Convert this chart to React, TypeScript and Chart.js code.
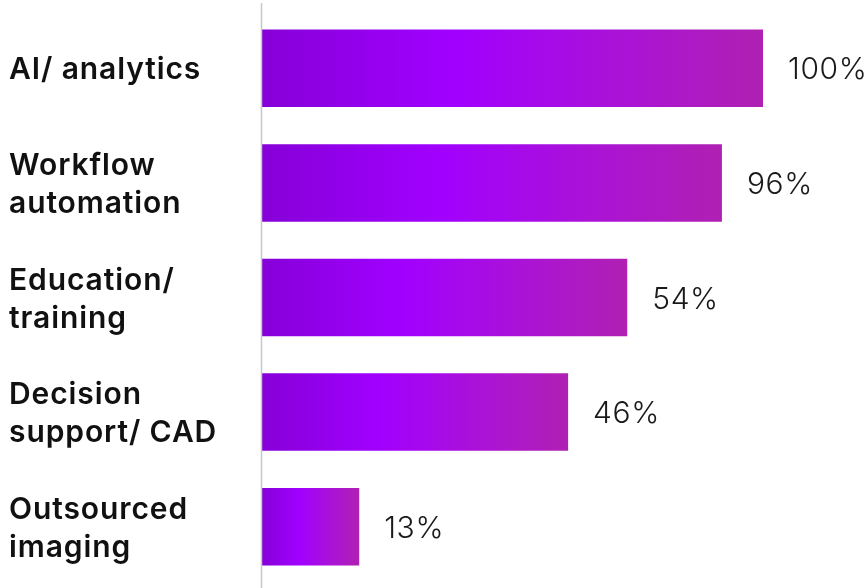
import React, { useEffect, useRef } from "react";
import { Chart, registerables } from "chart.js";

Chart.register(...registerables);

const categories: string[][] = [
  ["AI/ analytics"],
  ["Workflow", "automation"],
  ["Education/", "training"],
  ["Decision", "support/ CAD"],
  ["Outsourced", "imaging"],
];
const barValues: number[] = [100, 91.8, 72.9, 61.1, 19.4];
const valueLabels: string[] = ["100%", "96%", "54%", "46%", "13%"];

const FONT = "Inter, 'Noto Sans', sans-serif";

export default function App() {
  const ref = useRef<HTMLCanvasElement | null>(null);

  useEffect(() => {
    if (!ref.current) return;
    const labelPlugin = {
      id: "customLabels",
      afterDatasetsDraw(chart: any) {
        const { ctx } = chart;
        const meta = chart.getDatasetMeta(0);
        const yScale = chart.scales.y;
        ctx.save();
        // axis line
        ctx.strokeStyle = "#c8c8c8";
        ctx.lineWidth = 1.5;
        ctx.beginPath();
        const ax = chart.scales.x.getPixelForValue(0) - 0.5;
        ctx.moveTo(ax, 3);
        ctx.lineTo(ax, 588);
        ctx.stroke();
        // category labels
        ctx.fillStyle = "#111111";
        ctx.font = `600 30px ${FONT}`;
        (ctx as any).letterSpacing = "0.9px";
        ctx.textAlign = "left";
        ctx.textBaseline = "middle";
        const lh = 38;
        categories.forEach((lines, i) => {
          const cy = yScale.getPixelForValue(i);
          const start = cy - ((lines.length - 1) * lh) / 2;
          lines.forEach((ln, j) => ctx.fillText(ln, 9, start + j * lh + 2));
        });
        // value labels
        ctx.font = `300 30px ${FONT}`;
        (ctx as any).letterSpacing = "0.6px";
        ctx.fillStyle = "#1a1a1a";
        meta.data.forEach((el: any, i: number) => {
          ctx.fillText(valueLabels[i], el.x + 25, el.y + 2);
        });
        ctx.restore();
      },
    };

    const chart = new Chart(ref.current, {
      type: "bar",
      data: {
        labels: categories.map((c) => c.join(" ")),
        datasets: [
          {
            data: barValues,
            backgroundColor: (c: any) => {
              const chart = c.chart;
              const xs = chart.scales?.x;
              if (!xs || !chart.chartArea) return "#a000ff";
              const v = barValues[c.dataIndex] ?? 0;
              const x0 = xs.getPixelForValue(0);
              const x1 = xs.getPixelForValue(v);
              const g = chart.ctx.createLinearGradient(x0, 0, x1, 0);
              g.addColorStop(0, "#8600d8");
              g.addColorStop(0.38, "#a100ff");
              g.addColorStop(0.7, "#aa12d8");
              g.addColorStop(1, "#b020b2");
              return g;
            },
            borderWidth: 0,
            barPercentage: 0.676,
            categoryPercentage: 1,
          },
        ],
      },
      options: {
        indexAxis: "y",
        animation: false,
        responsive: false,
        maintainAspectRatio: false,
        layout: { padding: { left: 262, right: 102, top: 11, bottom: 4 } },
        plugins: { legend: { display: false }, tooltip: { enabled: false } },
        scales: {
          x: { display: false, min: 0, max: 100 },
          y: { display: false, grid: { display: false } },
        },
      },
      plugins: [labelPlugin],
    });
    return () => chart.destroy();
  }, []);

  return (
    <div style={{ position: "fixed", left: 0, top: 0, width: 865, height: 588, background: "#fff" }}>
      <canvas ref={ref} width={865} height={588} style={{ display: "block" }} />
    </div>
  );
}
